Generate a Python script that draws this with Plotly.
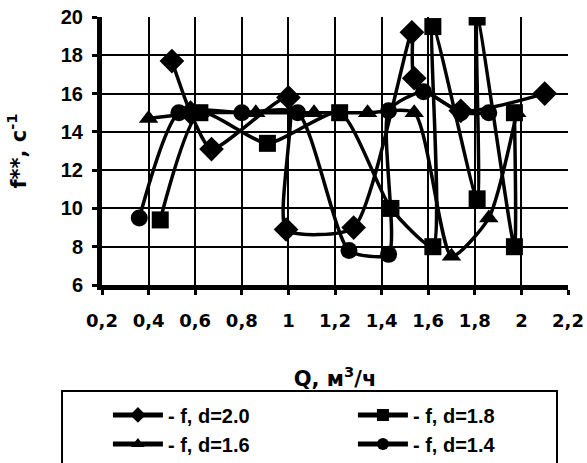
import plotly.graph_objects as go

# ---- data ----
q_d20 = [0.50, 0.58, 0.67, 1.00, 0.99, 1.28, 1.53, 1.54, 1.74, 2.10]
f_d20 = [17.7, 15.0, 13.1, 15.8, 8.9, 9.0, 19.2, 16.8, 15.1, 16.0]

q_d18 = [0.45, 0.62, 0.91, 1.22, 1.44, 1.62, 1.62, 1.81, 1.81, 1.97, 1.97]
f_d18 = [9.4, 15.0, 13.4, 15.0, 10.0, 8.0, 19.5, 10.5, 20.0, 8.0, 15.0]

q_d16 = [0.40, 0.62, 0.86, 1.11, 1.34, 1.54, 1.70, 1.86, 1.98]
f_d16 = [14.7, 15.0, 15.0, 15.0, 15.0, 15.0, 7.5, 9.5, 15.0]

q_d14 = [0.36, 0.53, 0.80, 1.04, 1.26, 1.43, 1.43, 1.58, 1.74, 1.86]
f_d14 = [9.5, 15.0, 15.0, 15.0, 7.8, 7.6, 15.1, 16.1, 15.0, 15.0]

names = ["- f, d=2.0", "- f, d=1.8", "- f, d=1.6", "- f, d=1.4"]
x_ticks = [0.2, 0.4, 0.6, 0.8, 1.0, 1.2, 1.4, 1.6, 1.8, 2.0, 2.2]
y_ticks = [6, 8, 10, 12, 14, 16, 18, 20]

FONT = "DejaVu Sans, Liberation Sans, Arial, sans-serif"
FONT_A = "Liberation Sans, Arial, sans-serif"

series = [
    (q_d20, f_d20, names[0], "diamond", 19),
    (q_d18, f_d18, names[1], "square", 17),
    (q_d16, f_d16, names[2], "triangle-up", 17),
    (q_d14, f_d14, names[3], "circle", 17),
]

fig = go.Figure()
for q, f, nm, sym, sz in series:
    fig.add_trace(go.Scatter(
        x=q, y=f, name=nm, mode="lines+markers",
        line=dict(color="black", width=3.5, shape="spline", smoothing=0.6),
        marker=dict(symbol=sym, size=sz, color="black"),
    ))

fig.update_layout(
    width=587, height=463,
    margin=dict(l=102, r=19, t=17, b=178, autoexpand=False),
    paper_bgcolor="white", plot_bgcolor="white",
    separators=", ",
    font=dict(family=FONT, color="black", size=16, weight="bold"),
    showlegend=True,
    legend=dict(
        orientation="h", x=-0.086, xanchor="left", y=-0.412, yanchor="top",
        entrywidth=134, indentation=46, itemwidth=50, itemsizing="constant",
        bgcolor="rgba(0,0,0,0)", borderwidth=0,
        font=dict(family=FONT_A, size=20, weight="bold", color="black"),
        traceorder="normal",
    ),
    # frame around the legend (open at the bottom edge of the picture)
    shapes=[dict(type="rect", xref="paper", yref="paper",
                 x0=-0.0858, x1=0.9764, y0=-0.75, y1=-0.3955,
                 line=dict(color="black", width=2), fillcolor="rgba(0,0,0,0)")],
)

fig.update_xaxes(
    range=[0.2, 2.2], tickvals=x_ticks,
    showgrid=True, gridcolor="black", gridwidth=2,
    showline=True, linecolor="black", linewidth=5,
    ticks="outside", ticklen=5, tickwidth=3, tickcolor="black",
    ticklabelstandoff=10,
    tickfont=dict(family=FONT, size=18, weight="bold"),
    zeroline=False,
    title=dict(text="Q, м<sup>3</sup>/ч", font=dict(family=FONT, size=21, weight="bold"), standoff=43),
)
fig.update_yaxes(
    range=[6, 20], tickvals=y_ticks,
    showgrid=True, gridcolor="black", gridwidth=2,
    showline=True, linecolor="black", linewidth=5,
    ticks="outside", ticklen=5, tickwidth=3, tickcolor="black",
    ticklabelstandoff=5,
    tickfont=dict(family=FONT_A, size=20, weight="bold"),
    zeroline=False,
    title=dict(text="f**, с<sup>-1</sup>", font=dict(family=FONT, size=21, weight="bold"), standoff=30),
)

fig.write_html(
    "out.html",
    config={"displayModeBar": False},
    post_script="document.body.style.margin='0';document.body.style.padding='0';",
)
